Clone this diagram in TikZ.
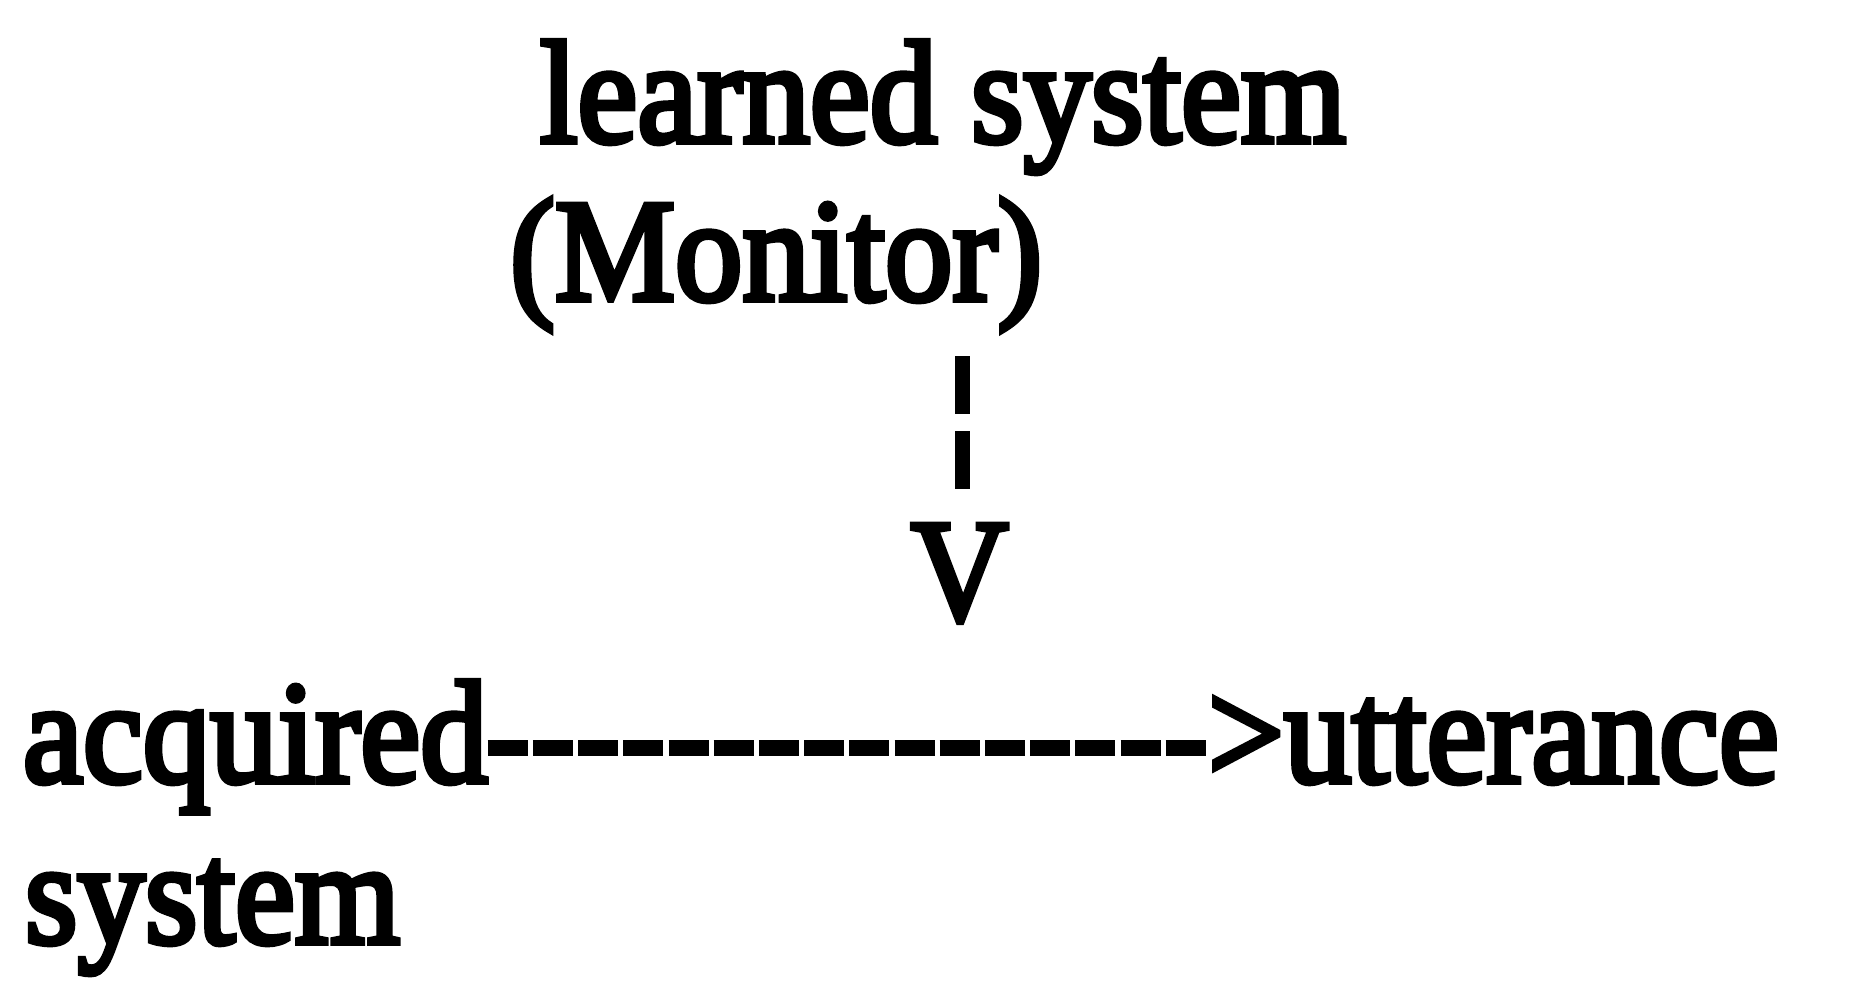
\documentclass[tikz,border=0pt]{standalone}
\usepackage{graphicx}
\usepackage{fontspec}
\setmainfont{Liberation Serif}
\newfontfamily\heavyserif{Liberation Serif}[FakeBold=4]
\newcommand\tallbox[1]{\scalebox{1}[1.08]{#1}}
\begin{document}
\begin{tikzpicture}[x=0.5pt,y=-0.5pt,
  txt/.style={inner sep=0pt, outer sep=0pt, anchor=base west,
    font=\heavyserif\fontsize{67.5pt}{80pt}\selectfont},
  vdash/.style={line width=7.5pt, dash pattern=on 29pt off 8.5pt},
  hdash/.style={line width=8pt, dash pattern=on 20pt off 2.6pt}]
\useasboundingbox[fill=white] (0,0) rectangle (1866,1003);
\node[txt] (learned) at (540,142) {\tallbox{learned system}};
\node[txt] (monitor) at (510,300) {\tallbox{(Monitor)}};
\node[txt] (vhead) at (911,620) {\tallbox{V}};
\node[txt] (acq) at (23,782) {\tallbox{acquired}};
\node[txt] (utt) at (1208,782) {\tallbox{>utterance}};
\node[txt] (sys) at (25,943) {\tallbox{system}};
\draw[vdash] ([yshift=-12.5pt,xshift=1.5pt]monitor.south -| vhead.north) -- ([yshift=17.5pt,xshift=1.5pt]vhead.north);
\draw[hdash] ([yshift=17pt]acq.base east) -- ([yshift=17pt,xshift=-1pt]utt.base west);
\end{tikzpicture}
\end{document}
